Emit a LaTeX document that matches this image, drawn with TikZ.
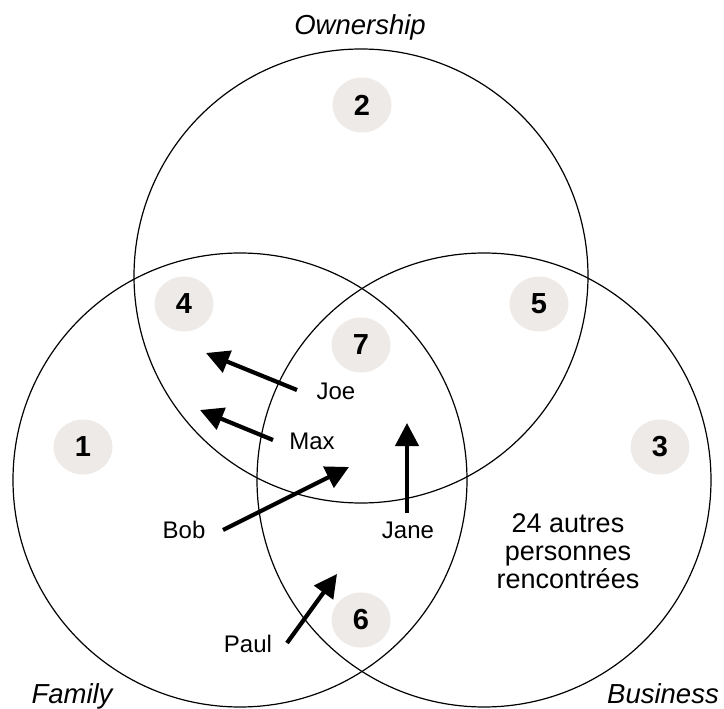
\documentclass[tikz,border=0pt]{standalone}
\usepackage{fontspec}
\setmainfont{Liberation Sans}
\usetikzlibrary{arrows.meta,shapes.geometric}
\definecolor{badgegray}{RGB}{237,234,232}
\tikzset{
  ring/.style={draw=black, line width=1.2pt},
  badge/.style={ellipse, fill=badgegray, minimum width=59pt, minimum height=55pt, inner sep=0pt,
    font=\fontsize{29}{29}\selectfont\bfseries},
  person/.style={anchor=base, inner sep=0pt, font=\fontsize{24}{24}\selectfont},
  setlabel/.style={anchor=base, inner sep=0pt, font=\fontsize{27.5}{27.5}\selectfont\itshape},
  move/.style={line width=4.2pt, -{Triangle[length=23pt,width=23pt]}}
}
\begin{document}
\begin{tikzpicture}[x=1pt,y=-1pt]
\useasboundingbox (0,0) rectangle (724,709);
% circles
\draw[ring] (361,276) circle (227);
\draw[ring] (240,480) circle (227);
\draw[ring] (484,480) circle (227);
% set labels
\node[setlabel] (own) at (360,35) {Ownership};
\node[setlabel] (fam) at (72,703) {Family};
\node[setlabel] (bus) at (663,703) {Business};
% badges
\node[badge] (b1) at (83,447) {1};
\node[badge] (b2) at (362,105) {2};
\node[badge] (b3) at (660,447) {3};
\node[badge] (b4) at (184,304) {4};
\node[badge] (b5) at (539,304) {5};
\node[badge] (b6) at (361,620) {6};
\node[badge] (b7) at (361,345) {7};
% people
\node[person] (joe) at (336,399) {Joe};
\node[person] (max) at (312,449) {Max};
\node[person] (bob) at (184,538) {Bob};
\node[person] (jane) at (408,538) {Jane};
\node[person] (paul) at (248,652) {Paul};
% other text
\node[anchor=north, inner sep=0pt, align=center, font=\fontsize{27}{28}\selectfont] (others) at (568,513.5) {24 autres\\personnes\\rencontrées};
% arrow ends
\coordinate (joeT) at (297,390);  \coordinate (joeH) at (206,353);
\coordinate (maxT) at (273,440);  \coordinate (maxH) at (200,410);
\coordinate (bobT) at (223,530);  \coordinate (bobH) at (349,467);
\coordinate (janeT) at (407,513); \coordinate (janeH) at (407,423);
\coordinate (paulT) at (287,643); \coordinate (paulH) at (337,574);
\draw[move] (joeT) -- (joeH);
\draw[move] (maxT) -- (maxH);
\draw[move] (bobT) -- (bobH);
\draw[move] (janeT) -- (janeH);
\draw[move] (paulT) -- (paulH);
\end{tikzpicture}
\end{document}
